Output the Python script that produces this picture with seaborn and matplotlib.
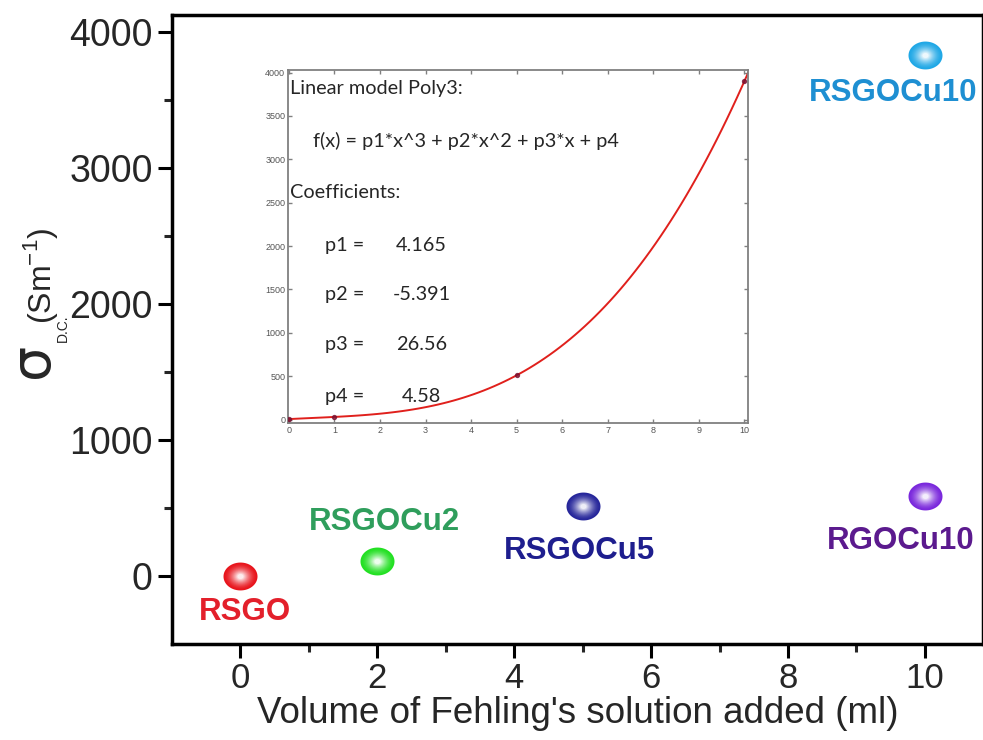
import numpy as np
import pandas as pd
import matplotlib
matplotlib.use('Agg')
import matplotlib.pyplot as plt
import seaborn as sns
from matplotlib.path import Path
from matplotlib.colors import to_rgb

# data
samples = ['RSGO', 'RSGOCu2', 'RSGOCu5', 'RSGOCu10', 'RGOCu10']
volume = [0, 2, 5, 10, 10]
sigma_dc = [0, 110, 510, 3830, 590]
ball_colors = ['#e8141c', '#22e022', '#26269a', '#20a8e6', '#7a28dc']
label_colors = ['#e3202b', '#2f9e5c', '#1e1e8e', '#1e8fd2', '#5b1a8e']
label_x = [0.07, 2.11, 4.96, 9.53, 9.64]
label_y = [-266, 399, 185, 3550, 258]

# inset (fit) data
fit_x = [0, 1, 5, 10]
fit_y = [5, 30, 510, 3900]
coef_names = ['p1 =', 'p2 =', 'p3 =', 'p4 =']
coef_vals = ['4.165', '-5.391', '26.56', '4.58']

sns.set_style('ticks')
plt.rcParams['font.family'] = ['Liberation Sans', 'DejaVu Sans']

fig = plt.figure(figsize=(9.83, 7.4), dpi=100)
ax = fig.add_axes([0.175, 0.130, 0.825, 0.850])

# ellipse marker for the glossy balls
t = np.linspace(0, 2 * np.pi, 60)
ell = Path(np.column_stack([np.cos(t), 0.82 * np.sin(t)]), closed=True)

df = pd.DataFrame({'x': volume, 'y': sigma_dc, 'name': samples})
n = 14
for k in range(len(df)):
    base = np.array(to_rgb(ball_colors[k]))
    row = df.iloc[[k]]
    for i in range(n):
        f = i / (n - 1)
        c = base + (1 - base) * (f ** 1.6) * 0.92
        s = 600 * (1 - 0.82 * f) ** 2
        sns.scatterplot(data=row, x='x', y='y', color=tuple(c), s=s,
                        marker=ell, linewidth=0, ax=ax, legend=False,
                        zorder=3 + i * 0.01)

for k, name in enumerate(samples):
    ax.text(label_x[k], label_y[k], name, color=label_colors[k],
            fontsize=22.5, fontweight='bold', ha='center', va='center')

ax.set_xlim(-1, 10.85)
ax.set_ylim(-500, 4125)
ax.set_xticks([0, 2, 4, 6, 8, 10])
ax.set_xticks([1, 3, 5, 7, 9], minor=True)
ax.set_yticks([0, 1000, 2000, 3000, 4000])
ax.set_yticks([500, 1500, 2500, 3500], minor=True)
ax.tick_params(which='major', direction='out', length=10, width=2.2,
               color='black')
ax.tick_params(which='minor', direction='out', length=6, width=2.2)
ax.tick_params(axis='y', pad=4, labelsize=27)
ax.tick_params(axis='x', pad=3, labelsize=25)
for side in ['left', 'bottom', 'top', 'right']:
    ax.spines[side].set_linewidth(2.5)
    ax.spines[side].set_color('black')
ax.set_xlabel("Volume of Fehling's solution added (ml)", fontsize=26.5, labelpad=1)
ax.set_ylabel('')

# y label pieces
fig.text(33 / 983, 1 - 360 / 740, 'σ', fontsize=40, rotation=90,
         ha='center', va='center', family='DejaVu Sans')
fig.text(63 / 983, 1 - 328 / 740, 'D.C.', fontsize=10, rotation=90,
         ha='center', va='center')
fig.text(40 / 983, 1 - 276 / 740, r'(Sm$^{\mathregular{-1}}$)', fontsize=23,
         rotation=90, ha='center', va='center')

# inset with polynomial fit
ins = fig.add_axes([288 / 983, 1 - 423 / 740, (748 - 288) / 983, (423 - 70) / 740])
sns.regplot(x=fit_x, y=fit_y, order=3, ci=None, ax=ins, truncate=False,
            scatter_kws={'s': 8, 'color': '#7a1030', 'zorder': 4},
            line_kws={'color': '#e0201c', 'lw': 1.4})
ins.set_xlim(-0.02, 10.08)
ins.set_ylim(-40, 4030)
ins.set_xticks(range(0, 11))
ins.set_yticks(range(0, 4001, 500))
ins.tick_params(direction='in', length=3, width=1, color='#808080',
                labelsize=6.5, labelcolor='#555555', top=True, right=True,
                pad=2)
for side in ins.spines.values():
    side.set_color('#808080')
    side.set_linewidth(1.3)

fs = 14.3
ins.text(0.005, 0.949, 'Linear model Poly3:', transform=ins.transAxes,
         fontsize=fs, va='center', family='Lato')
ins.text(0.054, 0.80, 'f(x) = p1*x^3 + p2*x^2 + p3*x + p4',
         transform=ins.transAxes, fontsize=fs, va='center', family='Lato')
ins.text(0.005, 0.654, 'Coefficients:', transform=ins.transAxes,
         fontsize=fs, va='center', family='Lato')
coef_yy = [0.504, 0.363, 0.221, 0.074]
for nm, v, yy in zip(coef_names, coef_vals, coef_yy):
    ins.text(0.08, yy, nm, transform=ins.transAxes, fontsize=fs,
             va='center', family='Lato')
    ins.text(0.29, yy, v, transform=ins.transAxes, fontsize=fs,
             va='center', ha='center', family='Lato')

fig.savefig('out.png', dpi=100)
